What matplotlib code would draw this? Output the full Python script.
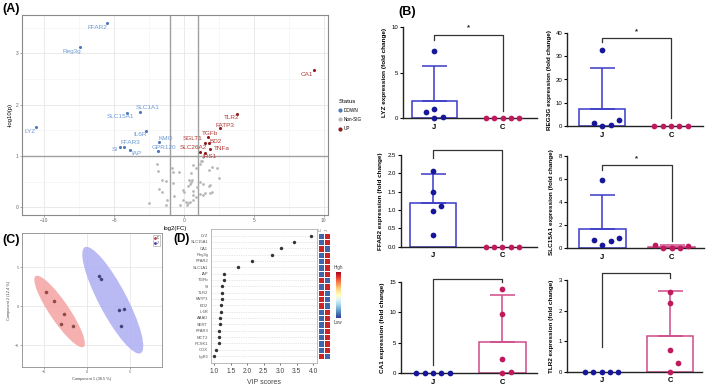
import numpy as np
import matplotlib.pyplot as plt
from matplotlib.patches import Ellipse
from matplotlib.lines import Line2D

plt.rcParams["font.family"] = ["Liberation Sans", "DejaVu Sans"]

# ---------------- (A) volcano plot data ----------------
down_genes = ["FFAR2", "Reg3g", "LYZ", "SLC15A1", "SLC1A1", "IL6R", "KMO", "GPR120", "FFAR3", "SI", "IAP"]
down_fc = [-5.5, -7.43, -10.6, -4.05, -3.14, -2.76, -1.83, -1.88, -4.33, -4.62, -3.86]
down_p = [3.59, 3.12, 1.57, 1.84, 1.86, 1.49, 1.27, 1.09, 1.18, 1.18, 1.12]

up_genes = ["CA1", "TLR2", "FATP3", "TGFb", "BD2", "SGLT1", "TNFa", "SLC26A2", "IRS1"]
up_fc = [9.3, 3.76, 2.57, 1.71, 1.76, 1.48, 1.86, 1.14, 1.48]
up_p = [2.68, 1.82, 1.54, 1.37, 1.25, 1.25, 1.14, 1.08, 1.06]

ns_fc = [-1.95, -1.90, -0.88, -0.76, -0.33, -1.60, -1.29, -0.76, 0.67, 0.83, 1.14, 1.26, 0.55,
         0.48, 0.43, 0.31, -1.76, -1.60, -0.10, 0.00, 0.67, 1.14, 1.33, 0.90, 1.81, 1.98, 2.33,
         2.50, 1.86, 1.98, 1.50, 1.33, 1.14, -1.24, -1.29, -2.48, -0.71, -0.05, 0.12, 0.26, 0.43,
         0.19, -0.29, 0.67, 0.86, 0.67, 1.86, 1.81, 0.50, 0.38, 1.21, 1.33]
ns_p = [0.84, 0.71, 0.76, 0.69, 0.68, 0.53, 0.52, 0.48, 0.82, 0.76, 0.84, 0.91, 0.54,
        0.50, 0.46, 0.42, 0.35, 0.30, 0.33, 0.29, 0.32, 0.50, 0.46, 0.40, 0.73, 0.79, 0.76,
        0.57, 0.27, 0.29, 0.27, 0.24, 0.25, 0.14, 0.04, 0.08, 0.22, 0.14, 0.11, 0.08, 0.10,
        0.04, 0.04, 0.14, 0.20, 0.24, 0.44, 0.42, 0.66, 0.53, 0.90, 0.99]

# label offsets (pixels) like ggrepel put them
label_offsets = {
    "FFAR2": (-10, -4), "Reg3g": (-8, -4), "LYZ": (-6, -5), "SLC15A1": (-7, -4),
    "SLC1A1": (7, 4), "IL6R": (-5, -4), "KMO": (7, 4), "GPR120": (6, 4),
    "FFAR3": (7, 4), "SI": (-5, -3), "IAP": (6, -4),
    "CA1": (-7, -5), "TLR2": (-5, -4), "FATP3": (5, 3), "TGFb": (2, 4),
    "BD2": (7, 2), "SGLT1": (-12, 5), "TNFa": (12, 0), "SLC26A2": (-7, 4), "IRS1": (5, -4),
}

# ---------------- (B) qPCR fold changes ----------------
b_genes = ["LYZ", "REG3G", "FFAR2", "SLC15A1", "CA1", "TLR2"]
lyz_j = [7.4, 0.73, 0.99, 0.0, 0.18]
lyz_c = [0.0, 0.0, 0.0, 0.0, 0.0]
reg3g_j = [32.5, 1.15, 0.0, 0.3, 2.6]
reg3g_c = [0.0, 0.0, 0.0, 0.0, 0.0]
ffar2_j = [2.06, 1.5, 1.12, 0.97, 0.32]
ffar2_c = [0.0, 0.0, 0.0, 0.0, 0.0]
slc15a1_j = [5.9, 0.73, 0.32, 0.64, 0.93]
slc15a1_c = [0.32, 0.0, 0.0, 0.0, 0.17]
ca1_j = [0.0, 0.0, 0.0, 0.0, 0.0]
ca1_c = [13.75, 9.66, 2.29, 0.0, 0.16]
tlr2_j = [0.0, 0.0, 0.0, 0.0, 0.0]
tlr2_c = [2.62, 2.24, 0.71, 0.27, 0.0]
b_j = [lyz_j, reg3g_j, ffar2_j, slc15a1_j, ca1_j, tlr2_j]
b_c = [lyz_c, reg3g_c, ffar2_c, slc15a1_c, ca1_c, tlr2_c]
b_ymax = [10, 40, 2.5, 8, 15, 3]
b_ystep = [5, 10, 0.5, 2, 5, 1]
b_stars = ["*", "*", "**", "*", "*", "**"]
# bracket height, left leg end, right leg end
b_bracket = [(9.2, 8.6, 0.8), (37.8, 36.0, 3.3), (2.64, 2.41, 0.18),
             (7.2, 6.77, 0.67), (15.5, 1.36, 15.0), (3.22, 0.82, 3.05)]
T_975_DF4 = 2.776  # 95% CI, n = 5

# ---------------- (C) sPLS-DA scores ----------------
c_red_x = [-4.82, -3.85, -2.67, -3.06, -1.65]
c_red_y = [1.76, 0.64, -0.99, -2.31, -2.56]
c_blue_x = [1.41, 1.65, 3.73, 4.35, 4.0]
c_blue_y = [3.85, 3.46, -0.55, -0.42, -2.56]

# ---------------- (D) VIP scores ----------------
vip_genes = ["LYZ", "SLC15A1", "CA1", "Reg3g", "FFAR2", "SLC1A1", "IAP", "TGFb", "SI", "TLR2",
             "FATP3", "BD2", "IL6R", "AAAD", "SERT", "FFAR3", "MCT2", "PCSK1", "COX", "LgR5"]
vip_scores = [3.95, 3.42, 3.02, 2.76, 2.15, 1.73, 1.31, 1.28, 1.24, 1.23,
              1.22, 1.21, 1.19, 1.17, 1.16, 1.15, 1.14, 1.13, 1.05, 1.0]
heat_cols = ["C", "J"]
heat_c = [-0.85, -0.85, 0.85, -0.85, -0.85, -0.85, -0.85, 0.85, -0.85, 0.85,
          0.85, 0.85, -0.85, -0.85, -0.85, -0.85, -0.85, -0.85, -0.85, 0.85]
heat_j = [-v for v in heat_c]

W, H = 709, 388
fig = plt.figure(figsize=(W / 100, H / 100), dpi=100)


def px_axes(left, right, top, bottom):
    return fig.add_axes([left / W, 1 - bottom / H, (right - left) / W, (bottom - top) / H])


# ===================== (A) =====================
ax = px_axes(22, 328, 15, 215)
ax.set_xlim(-11.6, 10.3)
ax.set_ylim(-0.15, 3.75)
ax.set_xticks([-10, -5, 0, 5, 10])
ax.set_yticks([0, 1, 2, 3])
ax.set_xticks([-7.5, -2.5, 2.5, 7.5], minor=True)
ax.set_yticks([0.5, 1.5, 2.5, 3.5], minor=True)
ax.grid(which="major", color="#e6e6e6", lw=0.6)
ax.grid(which="minor", color="#f2f2f2", lw=0.4)
ax.set_axisbelow(True)
for s in ax.spines.values():
    s.set_color("#8a8a8a")
    s.set_linewidth(0.8)
ax.tick_params(labelsize=3.5, colors="#666666", length=1.5, width=0.4, pad=1)
ax.tick_params(which="minor", length=0)
ax.axvline(-1, color="#a0a0a0", lw=1.0, zorder=1)
ax.axvline(1, color="#a0a0a0", lw=1.0, zorder=1)
ax.axhline(1, color="#a0a0a0", lw=1.0, zorder=1)
ax.scatter(ns_fc, ns_p, s=4, color="#b8b8b8", lw=0, zorder=2)
ax.scatter(down_fc, down_p, s=5, color="#4a78b8", lw=0, zorder=3)
ax.scatter(up_fc, up_p, s=5, color="#8e1c1c", lw=0, zorder=3)
for g, x, y in zip(down_genes, down_fc, down_p):
    ax.annotate(g, (x, y), xytext=label_offsets[g], textcoords="offset pixels",
                ha="center", va="center", fontsize=4.6, color="#6b9ad6")
for g, x, y in zip(up_genes, up_fc, up_p):
    ax.annotate(g, (x, y), xytext=label_offsets[g], textcoords="offset pixels",
                ha="center", va="center", fontsize=4.6, color="#b13a36")
ax.set_xlabel("log2(FC)", fontsize=4.3, labelpad=2)
ax.set_ylabel("-log10(p)", fontsize=4.3, labelpad=2)
handles = [Line2D([], [], ls="", marker="o", ms=2, color="#4a78b8"),
           Line2D([], [], ls="", marker="o", ms=2, color="#b8b8b8"),
           Line2D([], [], ls="", marker="o", ms=2, color="#8e1c1c")]
leg = ax.legend(handles, ["DOWN", "Non-SIG", "UP"], title="Status", loc="center left",
                bbox_to_anchor=(1.02, 0.5), fontsize=3.3, title_fontsize=4.3, frameon=False,
                handlelength=0.6, handletextpad=0.6, labelspacing=0.9, alignment="left")
fig.text(2 / W, 1 - 9 / H, "(A)", fontsize=9, fontweight="bold", va="center")

# ===================== (B) =====================
b_layout = [(402.7, 536.7, 27.3, 118.3), (567.3, 703, 33, 126),
            (400.7, 537, 155, 246.7), (566.7, 704, 156, 248.3),
            (400.7, 537, 281.7, 373.3), (566.7, 702, 280, 371.7)]
col_j_dot, col_c_dot = "#17179a", "#c01a5e"
col_j_bar, col_c_bar = "#3b3bc8", "#cf4a8a"


def swarm(vals, ppy, step=8.3):
    order = np.argsort(vals, kind="stable")
    placed = []
    offs = np.zeros(len(vals))
    for i in order:
        y = vals[i] * ppy
        for k in [0, 1, -1, 2, -2, 3, -3]:
            x = k * step
            if all(np.hypot(x - px, y - py) >= step - 0.01 for px, py in placed):
                break
        placed.append((x, y))
        offs[i] = x
    return offs


for i, gene in enumerate(b_genes):
    l, r, t, b = b_layout[i]
    axb = px_axes(l, r, t, b)
    xlim = (0.536, 2.5) if i % 2 == 0 else (0.487, 2.467)
    ymax = b_ymax[i]
    axb.set_xlim(*xlim)
    axb.set_ylim(0, ymax)
    ppx = (r - l) / (xlim[1] - xlim[0])
    ppy = (b - t) / ymax
    for xpos, vals, dcol, bcol in [(1, b_j[i], col_j_dot, col_j_bar), (2, b_c[i], col_c_dot, col_c_bar)]:
        vals = np.array(vals)
        mean = vals.mean()
        ci = T_975_DF4 * vals.std(ddof=1) / np.sqrt(len(vals))
        if mean > 0:
            axb.bar([xpos], [mean], width=0.67, facecolor="none", edgecolor=bcol, lw=1.1, zorder=2)
            axb.errorbar([xpos], [mean], yerr=[[0], [ci]], fmt="none", ecolor=bcol,
                         elinewidth=1.1, capsize=9, capthick=1.1, zorder=2)
        offs = swarm(vals, ppy) / ppx
        axb.scatter(xpos + offs, vals, s=17, color=dcol, lw=0, zorder=4, clip_on=False)
    top, lft, rgt = b_bracket[i]
    axb.plot([1, 1, 2, 2], [lft, top, top, rgt], color="#333333", lw=0.9, clip_on=False, zorder=3)
    axb.annotate(b_stars[i], (1.5, top), xytext=(0, 3), textcoords="offset pixels",
                 ha="center", va="bottom", fontsize=5.5, fontweight="bold", color="#222222")
    for s in ["top", "right"]:
        axb.spines[s].set_visible(False)
    for s in ["left", "bottom"]:
        axb.spines[s].set_linewidth(1.0)
        axb.spines[s].set_color("#222222")
    axb.spines["left"].set_bounds(0, ymax)
    axb.set_yticks(np.arange(0, ymax + 1e-9, b_ystep[i]))
    if ymax == 2.5:
        axb.set_yticklabels([f"{v:.1f}" for v in np.arange(0, 2.51, 0.5)])
    axb.set_xticks([1, 2])
    axb.set_xticklabels(["J", "C"], fontsize=5.5, fontweight="bold")
    axb.tick_params(axis="x", length=0, pad=4)
    axb.tick_params(axis="y", labelsize=4.3, length=2, width=0.8, pad=1.5)
    axb.set_ylabel(f"{gene} expression (fold change)", fontsize=4.6, fontweight="bold", labelpad=3)
fig.text(398 / W, 1 - 12 / H, "(B)", fontsize=9, fontweight="bold", va="center")

# ===================== (C) =====================
axc = px_axes(21.7, 162, 233, 367)
axc.set_xlim(-7.65, 8.8)
axc.set_ylim(-7.8, 9.36)
axc.set_xticks([-5, 0, 5])
axc.set_yticks([-5, 0, 5])
axc.grid(color="#e8e8e8", lw=0.6)
axc.set_axisbelow(True)
for s in axc.spines.values():
    s.set_color("#9a9a9a")
    s.set_linewidth(0.7)
axc.tick_params(labelsize=2.8, colors="#666666", length=1.2, width=0.4, pad=1)
for xs, ys, fill, dot in [(c_red_x, c_red_y, "#f5a3a3", "#b0403c"),
                          (c_blue_x, c_blue_y, "#adadf2", "#3a3aa0")]:
    cov = np.cov(xs, ys)
    vals, vecs = np.linalg.eigh(cov)
    ang = np.degrees(np.arctan2(vecs[1, -1], vecs[0, -1]))
    n_std = np.sqrt(5.991)
    major = 2 * n_std * np.sqrt(vals[-1])
    minor = max(2 * n_std * np.sqrt(vals[0]), 0.22 * major)
    e = Ellipse((np.mean(xs), np.mean(ys)), major, minor,
                angle=ang, facecolor=fill, edgecolor="none", alpha=0.85, zorder=1)
    axc.add_patch(e)
    axc.scatter(xs, ys, s=5, color=dot, edgecolor="#555555", lw=0.3, zorder=3)
axc.set_xlabel("Component 1 (38.5 %)", fontsize=2.8, labelpad=2, color="#444444")
axc.set_ylabel("Component 2 (12.4 %)", fontsize=2.8, labelpad=2, color="#444444")
hc = [Line2D([], [], ls="", marker="o", ms=1, color="#b0403c"),
      Line2D([], [], ls="", marker="o", ms=1, color="#3a3aa0")]
axc.legend(hc, ["C", "J"], loc="upper right", fontsize=2.2, frameon=True, handlelength=0.5,
           borderpad=0.4, labelspacing=0.3, handletextpad=0.3, fancybox=False,
           edgecolor="#888888").get_frame().set_linewidth(0.4)
fig.text(2 / W, 1 - 240 / H, "(C)", fontsize=9, fontweight="bold", va="center")

# ===================== (D) =====================
axd = px_axes(211, 317, 229.3, 363.3)
n = len(vip_genes)
ypos = np.arange(n)[::-1]
axd.grid(axis="y", color="#d0d0d0", ls=(0, (1, 1.5)), lw=0.5)
axd.set_axisbelow(True)
axd.scatter(vip_scores, ypos, s=6, color="#333333", lw=0, zorder=3)
axd.set_xlim(0.9, 4.12)
axd.set_ylim(-1.15, n)
axd.set_yticks(ypos)
axd.set_yticklabels(vip_genes, fontsize=3.0, color="#555555")
axd.set_xticks(np.arange(1.0, 4.01, 0.5))
axd.set_xticklabels([f"{v:.1f}" for v in np.arange(1.0, 4.01, 0.5)], fontsize=4.8, color="#444444")
axd.tick_params(axis="y", length=0, pad=2)
axd.tick_params(axis="x", length=1.5, width=0.4, pad=2)
for s in axd.spines.values():
    s.set_color("#b0b0b0")
    s.set_linewidth(0.6)
axd.set_xlabel("VIP scores", fontsize=5, color="#444444", labelpad=3)

axh = px_axes(318, 330, 232.5, 359.2)
mat = np.column_stack([heat_c, heat_j])
mesh = axh.pcolormesh(mat, cmap="RdYlBu_r", vmin=-1, vmax=1, edgecolors="white", linewidth=0.5)
axh.set_xlim(0, 2)
axh.set_ylim(n, 0)
axh.axis("off")
for k, name in enumerate(heat_cols):
    axh.text(k + 0.5, -0.2, name, rotation=90, ha="center", va="bottom", fontsize=3, color="#555555")

cax = px_axes(336, 340.7, 271.7, 318.3)
cb = fig.colorbar(mesh, cax=cax, ticks=[])
cb.outline.set_visible(False)
fig.text(338.3 / W, 1 - 267 / H, "High", fontsize=3.3, ha="center", va="center", color="#444444")
fig.text(338.3 / W, 1 - 323 / H, "Low", fontsize=3.3, ha="center", va="center", color="#444444")
fig.text(173 / W, 1 - 239 / H, "(D)", fontsize=8.5, fontweight="bold", va="center")

fig.savefig("out.png", dpi=100)
